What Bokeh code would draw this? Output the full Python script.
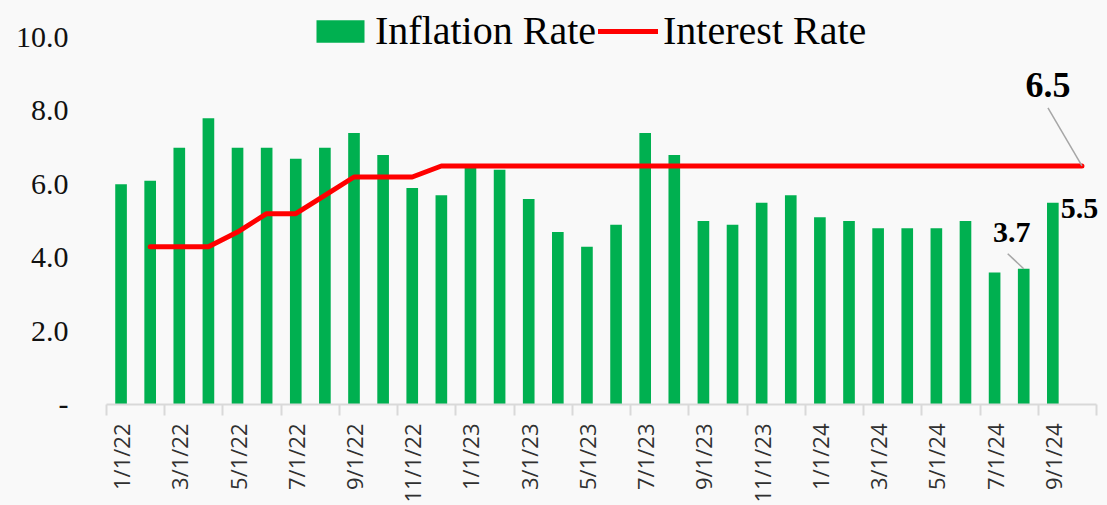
import math
from bokeh.plotting import figure
from bokeh.models import (Range1d, LinearAxis, FixedTicker, Legend, LegendItem, Label)
from bokeh.embed import file_html
from bokeh.resources import INLINE

# ---------------- data ----------------
months = ["1/1/22", "2/1/22", "3/1/22", "4/1/22", "5/1/22", "6/1/22", "7/1/22", "8/1/22",
          "9/1/22", "10/1/22", "11/1/22", "12/1/22", "1/1/23", "2/1/23", "3/1/23", "4/1/23",
          "5/1/23", "6/1/23", "7/1/23", "8/1/23", "9/1/23", "10/1/23", "11/1/23", "12/1/23",
          "1/1/24", "2/1/24", "3/1/24", "4/1/24", "5/1/24", "6/1/24", "7/1/24", "8/1/24",
          "9/1/24", "10/1/24"]
inflation = [6.0, 6.1, 7.0, 7.8, 7.0, 7.0, 6.7, 7.0, 7.4, 6.8, 5.9, 5.7, 6.5, 6.4, 5.6, 4.7,
             4.3, 4.9, 7.4, 6.8, 5.0, 4.9, 5.5, 5.7, 5.1, 5.0, 4.8, 4.8, 4.8, 5.0, 3.6, 3.7, 5.5]
interest = [None, 4.3, 4.3, 4.3, 4.7, 5.2, 5.2, 5.7, 6.2, 6.2, 6.2, 6.5, 6.5, 6.5, 6.5, 6.5,
            6.5, 6.5, 6.5, 6.5, 6.5, 6.5, 6.5, 6.5, 6.5, 6.5, 6.5, 6.5, 6.5, 6.5, 6.5, 6.5,
            6.5, 6.5]
y_ticks = [0, 2, 4, 6, 8, 10]
y_tick_labels = ["-", "2.0", "4.0", "6.0", "8.0", "10.0"]

# ---------------- layout ----------------
W, H = 1107, 505
LEFT, RIGHT, TOP, BOTTOM = 106, 0, 0, 101
PX_X = 29.118                       # pixels per month
X_END = (W - LEFT - RIGHT) / PX_X
Y_END = 11.01
PX_Y = (H - TOP - BOTTOM) / Y_END
BG = "#f9f9f9"
SERIF = "Liberation Serif"

n = len(months)
xs = [i + 0.5 for i in range(n)]

p = figure(width=W, height=H, x_range=Range1d(0, X_END), y_range=Range1d(0, Y_END),
           output_backend="svg", toolbar_location=None,
           min_border_left=LEFT, min_border_right=RIGHT, min_border_top=TOP,
           min_border_bottom=BOTTOM, x_axis_type=None, y_axis_type=None,
           background_fill_color=BG, border_fill_color=BG, outline_line_color=None)

# x axis: labels every other month, ticks on category boundaries
lab_x = xs[::2]
lab_t = months[::2]
xa = LinearAxis(ticker=FixedTicker(ticks=lab_x, minor_ticks=list(range(0, n + 1, 2))),
                bounds=(0, n),
                major_label_overrides={x: t for x, t in zip(lab_x, lab_t)},
                major_label_orientation=math.pi / 2,
                major_label_standoff=8,
                major_label_text_font="Open Sans", major_label_text_font_size="22px",
                major_label_text_color="#303030",
                major_tick_out=0, major_tick_in=0,
                minor_tick_out=11, minor_tick_in=0,
                axis_line_color="#d9d9d9", axis_line_width=2,
                minor_tick_line_color="#d9d9d9", minor_tick_line_width=2,
                major_tick_line_color=None)
p.add_layout(xa, "below")

ya = LinearAxis(ticker=FixedTicker(ticks=y_ticks),
                major_label_overrides={t: s for t, s in zip(y_ticks, y_tick_labels)},
                axis_line_color=None, major_tick_line_color=None, minor_tick_line_color=None,
                major_tick_out=0, major_tick_in=0, minor_tick_out=0,
                major_label_standoff=38,
                major_label_text_font=SERIF, major_label_text_font_size="30px",
                major_label_text_color="#111111")
p.add_layout(ya, "left")

bars = p.vbar(x=xs[:len(inflation)], top=inflation, width=0.4,
              fill_color="#00B050", line_color=None)

ix = [x for x, v in zip(xs, interest) if v is not None]
iv = [v for v in interest if v is not None]
line = p.line(x=ix, y=iv, line_color="#FF0000", line_width=5,
              line_cap="round", line_join="round")

# data labels with leader lines
ax, ay = ix[-1], iv[-1]
bx, by = xs[31], inflation[31]
cx, cy = xs[32], inflation[32]
p.segment(x0=[ax, bx], y0=[ay, by],
          x1=[ax - 34 / PX_X, bx - 16 / PX_X], y1=[ay + 58 / PX_Y, by + 15 / PX_Y],
          line_color="#a6a6a6", line_width=1.5)
p.add_layout(Label(x=ax - 34 / PX_X, y=ay + 81 / PX_Y, text=f"{ay:.1f}",
                   text_font=SERIF, text_font_style="bold", text_font_size="36px",
                   text_align="center", text_baseline="middle", text_color="black"))
p.add_layout(Label(x=bx - 12 / PX_X, y=by + 36 / PX_Y, text=f"{by:.1f}",
                   text_font=SERIF, text_font_style="bold", text_font_size="30px",
                   text_align="center", text_baseline="middle", text_color="black"))
p.add_layout(Label(x=cx + 8 / PX_X, y=cy - 6 / PX_Y, text=f"{cy:.1f}",
                   text_font=SERIF, text_font_style="bold", text_font_size="30px",
                   text_align="left", text_baseline="middle", text_color="black"))

legend = Legend(items=[LegendItem(label="Inflation Rate", renderers=[bars]),
                       LegendItem(label="Interest Rate", renderers=[line])],
                orientation="horizontal", location=(204, 350),
                label_text_font=SERIF, label_text_font_size="40px", label_text_color="black",
                glyph_width=60, glyph_height=28, label_standoff=5, spacing=2,
                padding=0, margin=0, background_fill_alpha=0, border_line_alpha=0)
p.add_layout(legend, "center")

html = file_html(p, INLINE)
html = html.replace("</head>", "<style>body{background:#f9f9f9;}</style></head>", 1)
open("out.html", "w").write(html)
